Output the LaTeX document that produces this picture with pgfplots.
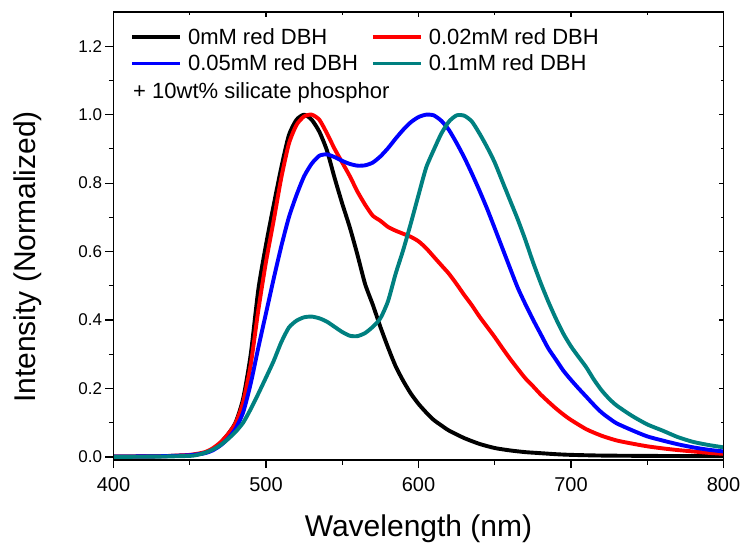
\documentclass[border=0pt]{standalone}
\usepackage{fontspec}
\setmainfont{Liberation Sans}
\usepackage{pgfplots}
\pgfplotsset{compat=1.18}
\definecolor{tealc}{RGB}{0,128,128}
\definecolor{redc}{RGB}{255,0,0}
\definecolor{bluec}{RGB}{0,0,255}

\begin{document}
\begin{tikzpicture}
\pgfplotsset{
  common/.style={
    scale only axis, width=610pt, height=448pt,
    xmin=400, xmax=800, ymin=-0.009, ymax=1.30,
    xtick={400,500,600,700,800}, minor x tick num=1,
    ytick={0,0.2,0.4,0.6,0.8,1.0,1.2}, minor y tick num=1,
    axis line style={line width=1.3pt},
    every tick/.style={line width=1.2pt, black},
  }
}
\begin{axis}[common,
  xtick pos=left, ytick pos=left,
  tick align=outside,
  major tick length=8pt, minor tick length=4.5pt,
  /pgf/number format/assume math mode=true,
  yticklabel style={/pgf/number format/.cd, fixed, fixed zerofill, precision=1, /tikz/.cd, font=\fontsize{17}{20}\selectfont},
  xticklabel style={font=\fontsize{20}{24}\selectfont, yshift=-6pt},
  xlabel={Wavelength (nm)},
  ylabel={Intensity (Normalized)},
  every axis x label/.style={at={(axis description cs:0.5,-0.153)}, anchor=center, font=\fontsize{30}{34}\selectfont},
  every axis y label/.style={at={(axis description cs:-0.140,0.453)}, rotate=90, anchor=center, font=\fontsize{30}{34}\selectfont},
  legend style={at={(axis description cs:0.022,0.973)}, anchor=north west, draw=none, fill=none,
    font=\fontsize{22}{26}\selectfont, nodes={inner sep=2pt}, row sep=5pt,
    /tikz/every even column/.append style={column sep=11pt}},
  legend cell align=left,
  legend columns=2,
  legend image code/.code={\draw[#1] (0pt,0pt) -- (48pt,0pt); \path (52pt,0pt);},
  every axis plot/.append style={line width=3.9pt, line join=round, smooth, tension=0.4},
]
\addplot[black] coordinates {
(400,0.001)(430,0.002)(450,0.005)(460,0.012)(465,0.022)(470,0.040)(475,0.066)(480,0.100)
(485,0.170)(490,0.300)(495,0.490)(500,0.620)(505,0.735)(510,0.845)(515,0.940)(520,0.985)
(525,1.000)(530,0.985)(535,0.950)(540,0.895)(545,0.815)(550,0.740)(555,0.670)(560,0.590)
(565,0.505)(570,0.445)(575,0.380)(580,0.320)(585,0.265)(590,0.222)(595,0.185)(600,0.155)
(605,0.130)(610,0.108)(615,0.092)(620,0.077)(630,0.055)(640,0.038)(650,0.026)(660,0.019)
(670,0.014)(680,0.011)(690,0.008)(700,0.006)(720,0.004)(750,0.003)(800,0.002)};
\addlegendentry{0mM red DBH}
\addplot[redc] coordinates {
(400,0.001)(430,0.002)(450,0.006)(460,0.014)(465,0.025)(470,0.042)(475,0.066)(480,0.098)
(485,0.160)(490,0.270)(495,0.430)(500,0.570)(505,0.690)(510,0.815)(515,0.915)(520,0.970)
(525,0.995)(530,1.000)(535,0.985)(540,0.945)(545,0.900)(550,0.860)(555,0.820)(560,0.775)
(565,0.737)(570,0.705)(575,0.690)(580,0.672)(585,0.661)(590,0.652)(595,0.643)(600,0.630)
(605,0.610)(610,0.585)(615,0.560)(620,0.535)(625,0.505)(630,0.473)(635,0.443)(640,0.410)
(645,0.380)(650,0.350)(655,0.318)(660,0.287)(665,0.258)(670,0.230)(675,0.207)(680,0.183)
(685,0.162)(690,0.142)(695,0.124)(700,0.108)(710,0.081)(720,0.062)(730,0.048)(740,0.039)
(750,0.031)(760,0.025)(770,0.020)(780,0.016)(790,0.012)(800,0.009)};
\addlegendentry{0.02mM red DBH}
\addplot[bluec] coordinates {
(400,0.001)(430,0.002)(450,0.005)(460,0.011)(465,0.019)(470,0.033)(475,0.053)(480,0.082)
(485,0.130)(490,0.215)(495,0.320)(500,0.420)(505,0.520)(510,0.615)(515,0.700)(520,0.765)
(525,0.820)(530,0.857)(535,0.880)(540,0.884)(545,0.876)(550,0.865)(555,0.856)(560,0.851)
(565,0.852)(570,0.860)(575,0.878)(580,0.902)(585,0.930)(590,0.956)(595,0.978)(600,0.993)
(605,1.000)(610,0.998)(615,0.982)(620,0.955)(625,0.917)(630,0.875)(635,0.828)(640,0.778)
(645,0.725)(650,0.668)(655,0.610)(660,0.552)(665,0.495)(670,0.447)(675,0.402)(680,0.360)
(685,0.318)(690,0.285)(695,0.252)(700,0.225)(705,0.200)(710,0.176)(715,0.152)(720,0.130)
(725,0.113)(730,0.098)(740,0.078)(750,0.060)(760,0.048)(770,0.037)(780,0.028)(790,0.021)
(800,0.016)};
\addlegendentry{0.05mM red DBH}
\addplot[tealc] coordinates {
(400,0.000)(430,0.001)(450,0.003)(455,0.006)(460,0.012)(465,0.021)(470,0.034)(475,0.052)
(480,0.073)(485,0.100)(490,0.140)(495,0.185)(500,0.232)(505,0.280)(510,0.335)(515,0.378)
(520,0.398)(525,0.408)(530,0.410)(535,0.405)(540,0.395)(545,0.380)(550,0.365)(555,0.354)
(560,0.353)(565,0.362)(570,0.380)(575,0.405)(580,0.455)(585,0.535)(590,0.605)(595,0.683)
(600,0.765)(605,0.845)(610,0.897)(615,0.945)(620,0.980)(625,0.998)(630,0.997)(635,0.980)
(640,0.945)(645,0.905)(650,0.860)(655,0.805)(660,0.750)(665,0.695)(670,0.635)(675,0.570)
(680,0.510)(685,0.455)(690,0.405)(695,0.360)(700,0.323)(705,0.292)(710,0.262)(715,0.226)
(720,0.195)(725,0.170)(730,0.150)(740,0.120)(750,0.095)(760,0.077)(770,0.058)(780,0.044)
(790,0.035)(800,0.028)};
\addlegendentry{0.1mM red DBH}
\node[anchor=west, inner sep=0pt, font=\fontsize{22}{26}\selectfont] at (axis description cs:0.032,0.82) {+ 10wt\% silicate phosphor};
\end{axis}
\begin{axis}[common,
  xtick pos=right, ytick pos=right,
  tick align=inside,
  major tick length=5pt, minor tick length=3pt,
  xticklabels={}, yticklabels={},
]
\end{axis}
\pgfresetboundingbox
\path[use as bounding box] (-113.5pt,-84pt) rectangle (627.5pt,460pt);
\end{tikzpicture}
\end{document}
